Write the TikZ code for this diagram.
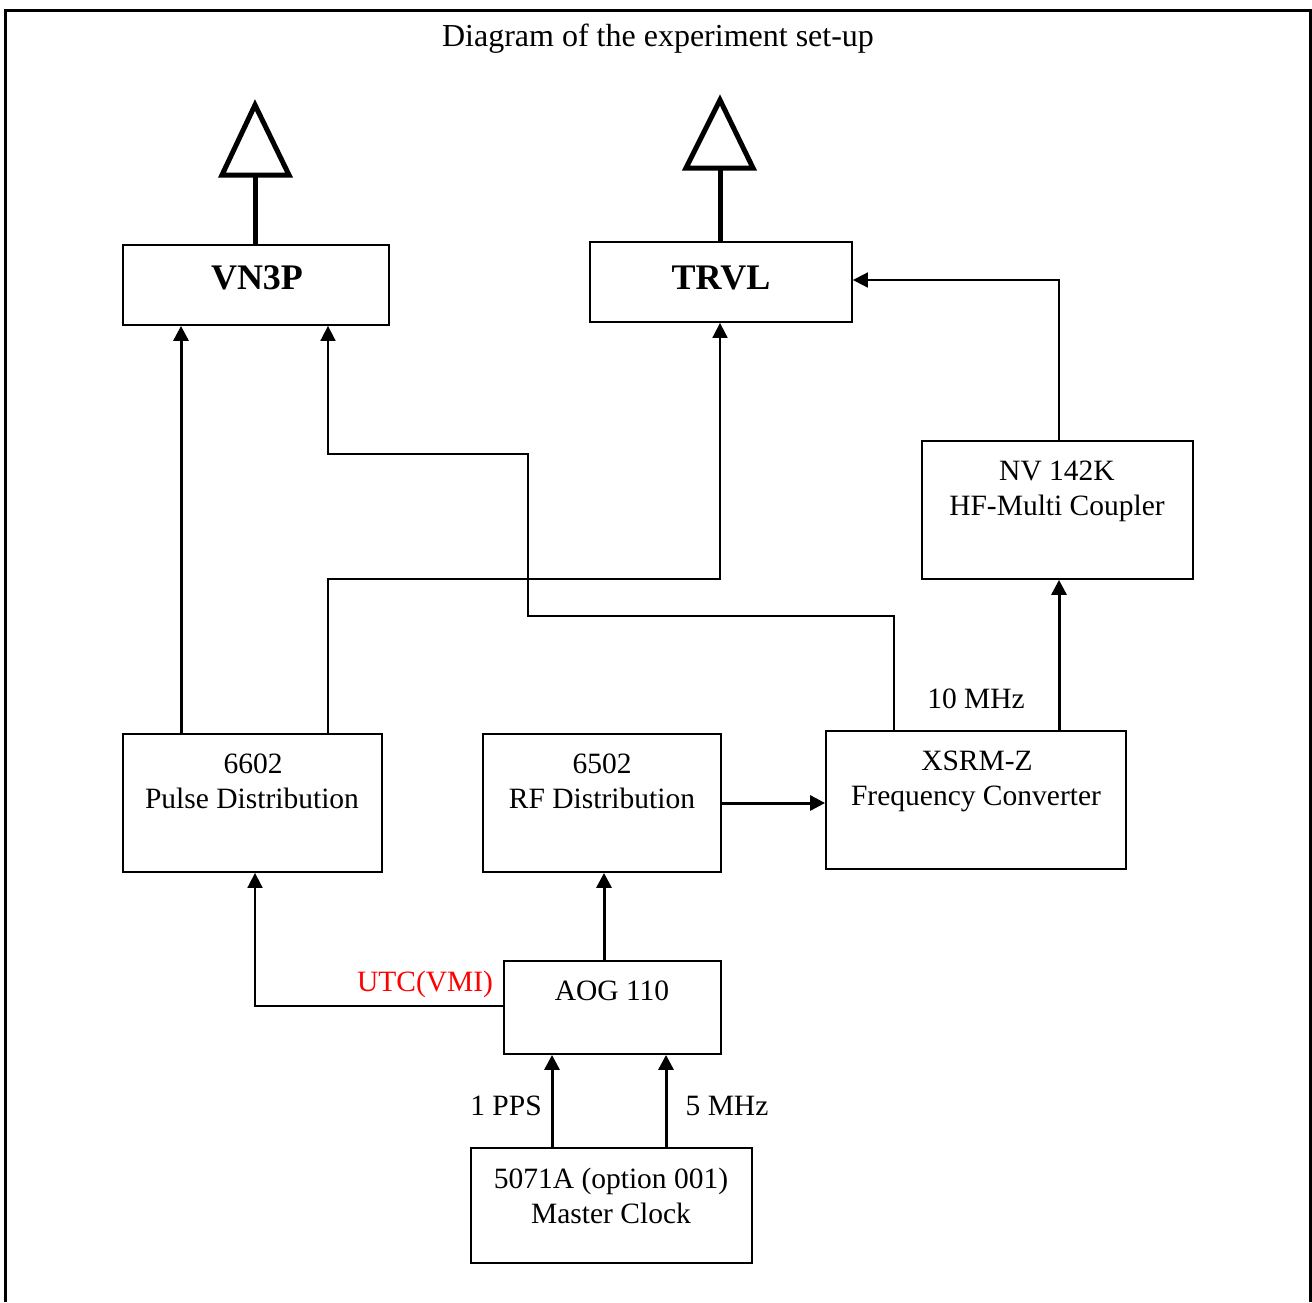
\documentclass[tikz,border=0pt]{standalone}
\usepackage{fontspec}
\setmainfont{Liberation Serif}
\usetikzlibrary{arrows.meta}
\begin{document}
\begin{tikzpicture}[x=1pt,y=-1pt,
  box/.style={draw, line width=1.8pt, inner sep=0pt, minimum width=#1},
  lbl/.style={anchor=base, inner sep=0pt, font=\fontsize{29.5}{34}\selectfont},
  bold/.style={anchor=base, inner sep=0pt, font=\fontsize{36}{42}\selectfont\bfseries},
  conn/.style={line width=1.8pt, -{Triangle[length=15pt,width=15pt]}},
  thick conn/.style={line width=3pt, -{Triangle[length=15pt,width=15pt]}},
  ant/.style={line width=5pt, miter limit=10}]
\useasboundingbox (0,0) rectangle (1312,1302);
% frame
\draw[line width=3pt] (5,1302) -- (5,10) -- (1310,10) -- (1310,1302);
\node[lbl, font=\fontsize{32}{38}\selectfont] (title) at (658,46) {Diagram of the experiment set-up};

% boxes
\node[box=266pt, minimum height=80pt] (vn3p) at (256,285) {};
\node[bold] (vn3pt) at (257,289) {VN3P};
\node[box=262pt, minimum height=80pt] (trvl) at (721,282) {};
\node[bold] (trvlt) at (721,289) {TRVL};
\node[box=271pt, minimum height=138pt] (nv) at (1057.5,510) {};
\node[lbl] (nvt1) at (1057,480) {NV 142K};
\node[lbl] (nvt2) at (1057,515) {HF-Multi Coupler};
\node[box=259pt, minimum height=138pt] (pd) at (252.5,803) {};
\node[lbl] (pdt1) at (253,773) {6602};
\node[lbl] (pdt2) at (252,808) {Pulse Distribution};
\node[box=238pt, minimum height=138pt] (rf) at (602,803) {};
\node[lbl] (rft1) at (602,773) {6502};
\node[lbl] (rft2) at (602,808) {RF Distribution};
\node[box=300pt, minimum height=138pt] (xs) at (976,800) {};
\node[lbl] (xst1) at (977,770) {XSRM-Z};
\node[lbl] (xst2) at (976,805) {Frequency Converter};
\node[box=217pt, minimum height=93pt] (aog) at (612.5,1007.5) {};
\node[lbl] (aogt) at (612,1000) {AOG 110};
\node[box=281pt, minimum height=115pt] (clk) at (611.5,1205.5) {};
\node[lbl] (clkt1) at (611,1188) {5071A (option 001)};
\node[lbl] (clkt2) at (611,1223) {Master Clock};

% antennas
\coordinate (a1) at (255,175);
\draw[ant] (255,105) -- (289,175) -- (222,175) -- cycle;
\draw[ant] (a1) -- (vn3p.north -| a1);
\coordinate (a2) at (720,168);
\draw[ant] (720,100) -- (753,168) -- (686,168) -- cycle;
\draw[ant] (a2) -- (trvl.north -| a2);

% helper coordinates
\coordinate (x181) at (181,0);
\coordinate (x328) at (328,0);
\coordinate (x720) at (720,0);
\coordinate (x528) at (528,0);
\coordinate (x894) at (894,0);
\coordinate (x1059) at (1059,0);
\coordinate (x604) at (604,0);
\coordinate (x255) at (255,0);
\coordinate (x552) at (552,0);
\coordinate (x666) at (666,0);
\coordinate (y579) at (0,579);
\coordinate (y616) at (0,616);
\coordinate (y454) at (0,454);
\coordinate (y280) at (0,280);
\coordinate (y803) at (0,803);
\coordinate (y1006) at (0,1006);

% connectors
\draw[thick conn] (pd.north -| x181) -- (vn3p.south -| x181);
\draw[conn] (pd.north -| x328) -- (x328 |- y579) -- (x720 |- y579) -- (trvl.south -| x720);
\draw[conn] (xs.north -| x894) -- (x894 |- y616) -- (x528 |- y616) -- (x528 |- y454) -- (x328 |- y454) -- (vn3p.south -| x328);
\draw[thick conn] (xs.north -| x1059) -- (nv.south -| x1059);
\node[lbl] (mhz10) at (976,708) {10 MHz};
\draw[conn] (nv.north -| x1059) -- (x1059 |- y280) -- (trvl.east |- y280);
\draw[thick conn] (rf.east |- y803) -- (xs.west |- y803);
\draw[thick conn] (aog.north -| x604) -- (rf.south -| x604);
\draw[conn] (aog.west |- y1006) -- (x255 |- y1006) -- (pd.south -| x255);
\node[lbl, text=red] (utc) at (425,991) {UTC(VMI)};
\draw[thick conn] (clk.north -| x552) -- (aog.south -| x552);
\draw[thick conn] (clk.north -| x666) -- (aog.south -| x666);
\node[lbl] (pps) at (506,1115) {1 PPS};
\node[lbl] (mhz5) at (727,1115) {5 MHz};
\end{tikzpicture}
\end{document}
